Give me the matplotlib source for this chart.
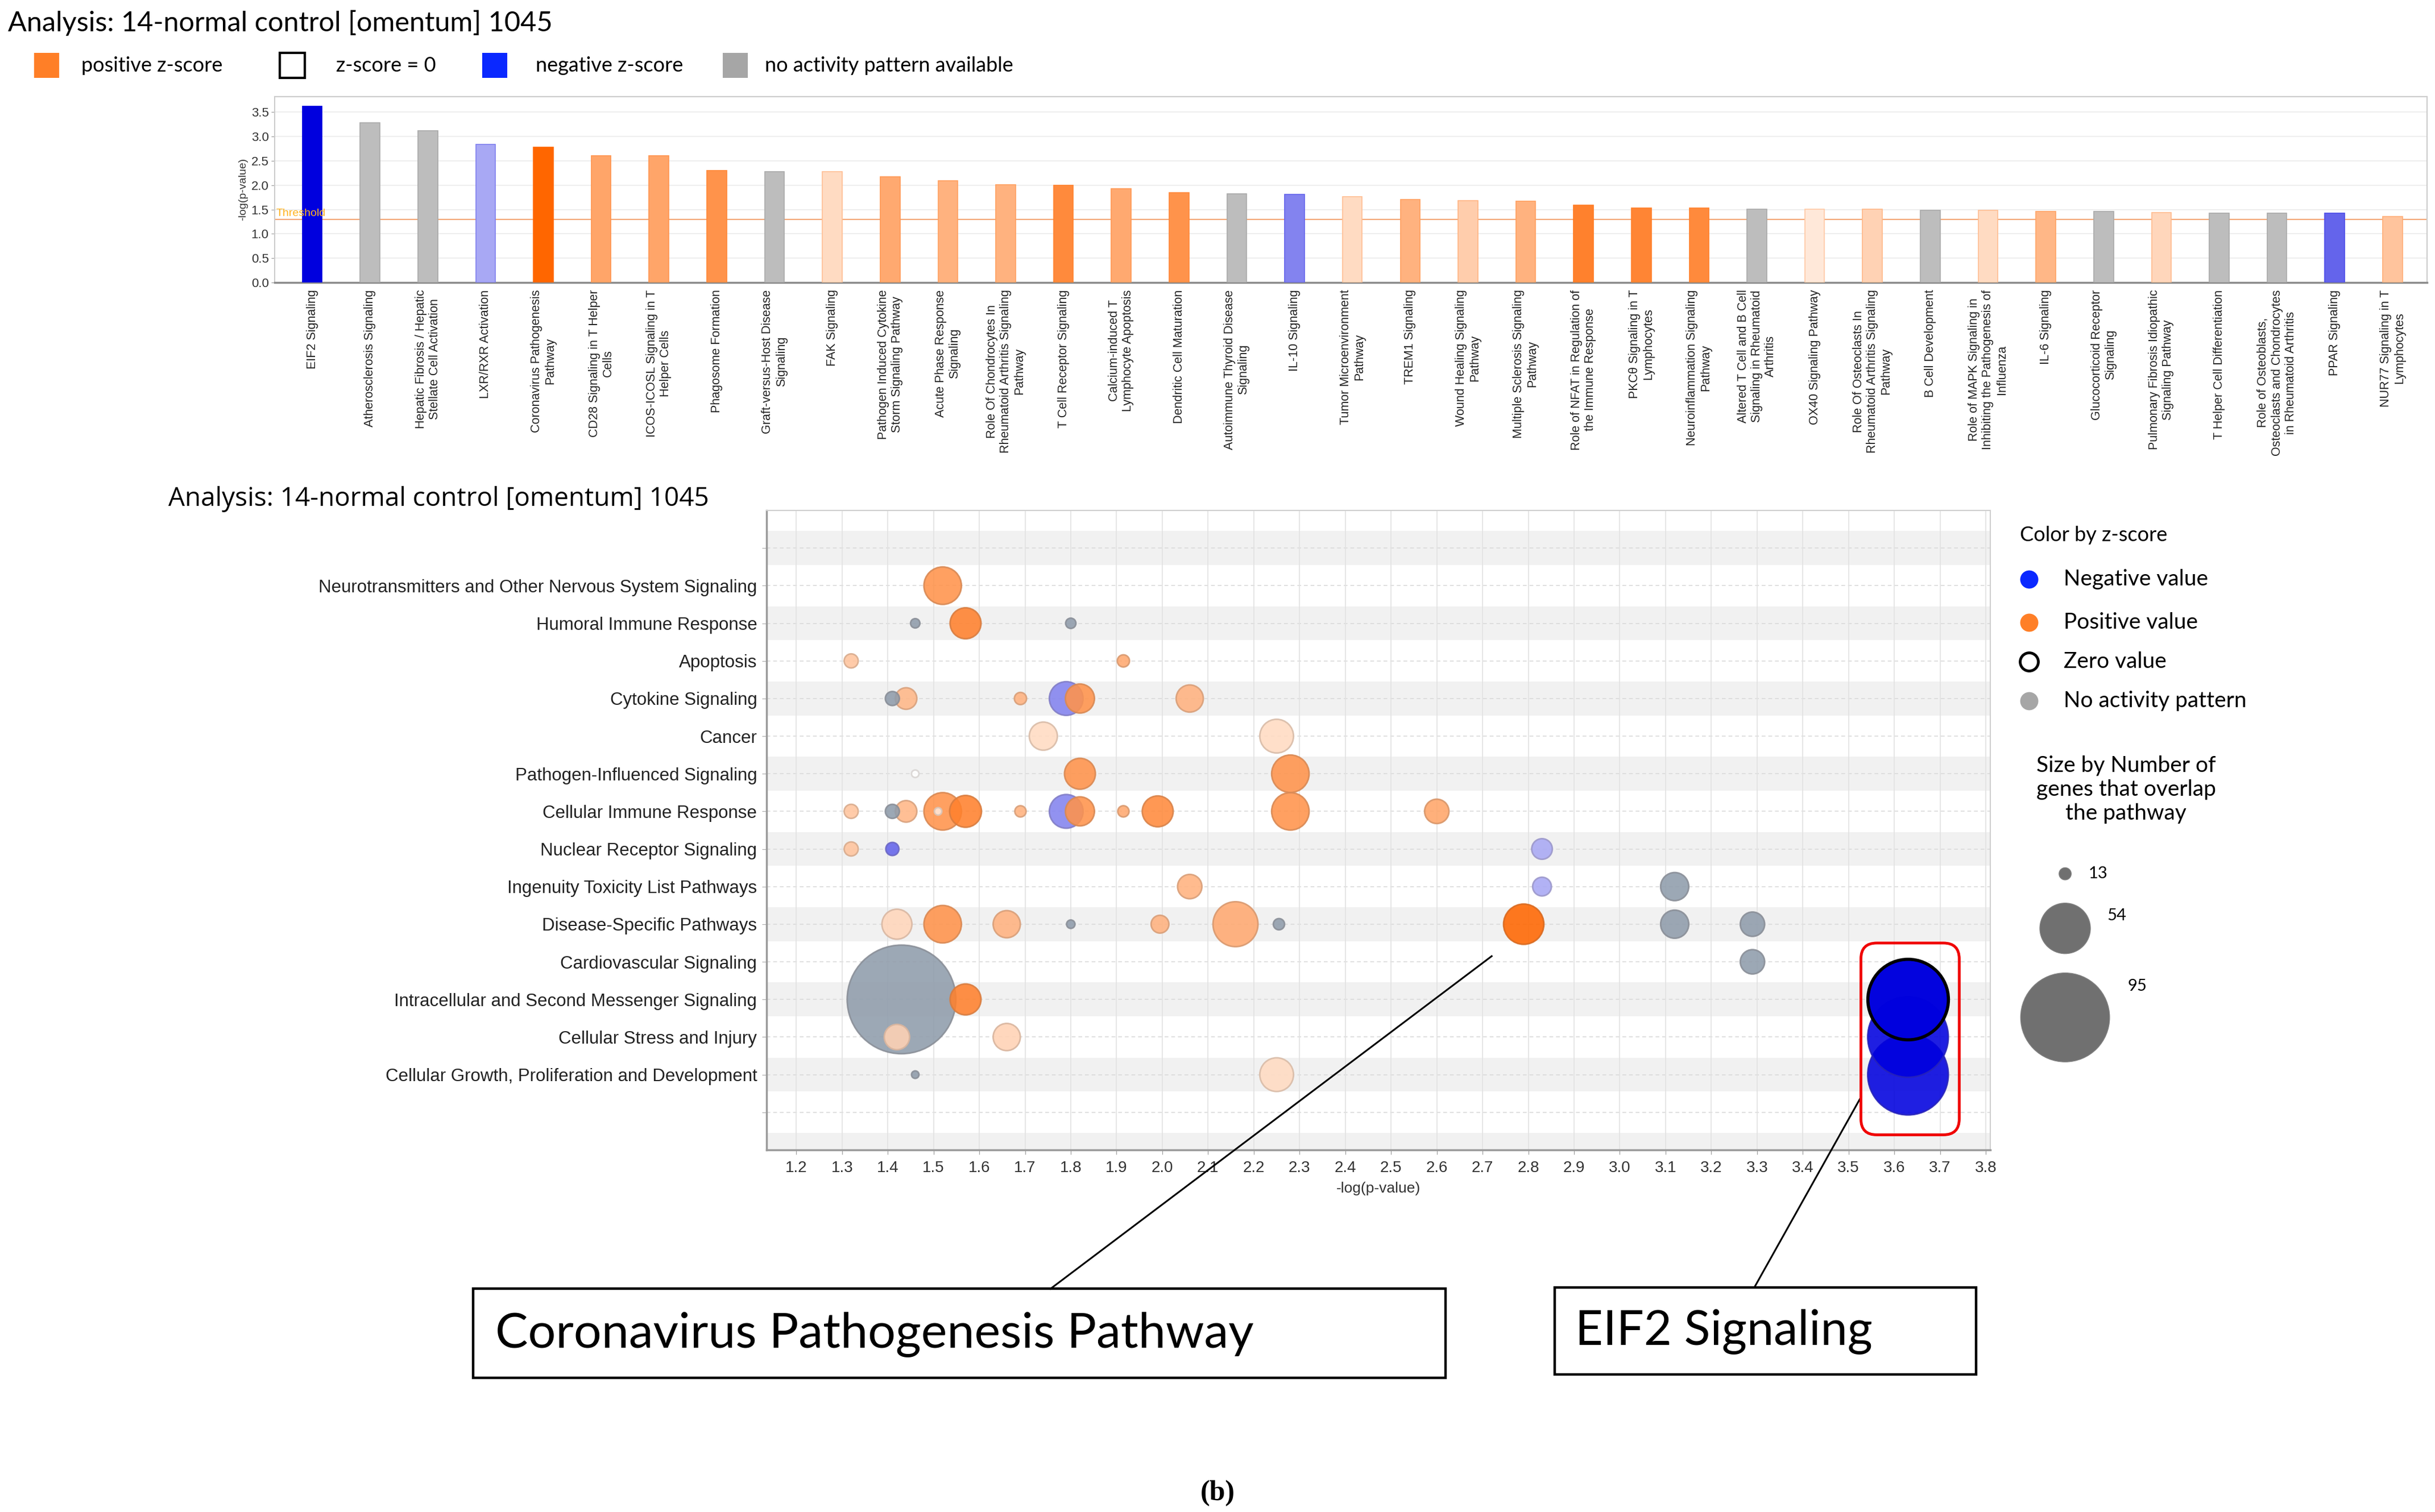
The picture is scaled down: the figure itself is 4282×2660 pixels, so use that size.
import numpy as np
import matplotlib
matplotlib.use("Agg")
import matplotlib.pyplot as plt
from matplotlib.patches import Rectangle, FancyBboxPatch
from matplotlib.transforms import IdentityTransform

# ---- top bar chart: canonical pathways ----
bar_names = [
    "EIF2 Signaling", "Atherosclerosis Signaling",
    "Hepatic Fibrosis / Hepatic\nStellate Cell Activation", "LXR/RXR Activation",
    "Coronavirus Pathogenesis\nPathway", "CD28 Signaling in T Helper\nCells",
    "ICOS-ICOSL Signaling in T\nHelper Cells", "Phagosome Formation",
    "Graft-versus-Host Disease\nSignaling", "FAK Signaling",
    "Pathogen Induced Cytokine\nStorm Signaling Pathway",
    "Acute Phase Response\nSignaling",
    "Role Of Chondrocytes In\nRheumatoid Arthritis Signaling\nPathway",
    "T Cell Receptor Signaling", "Calcium-induced T\nLymphocyte Apoptosis",
    "Dendritic Cell Maturation", "Autoimmune Thyroid Disease\nSignaling",
    "IL-10 Signaling", "Tumor Microenvironment\nPathway", "TREM1 Signaling",
    "Wound Healing Signaling\nPathway", "Multiple Sclerosis Signaling\nPathway",
    "Role of NFAT in Regulation of\nthe Immune Response",
    "PKCθ Signaling in T\nLymphocytes", "Neuroinflammation Signaling\nPathway",
    "Altered T Cell and B Cell\nSignaling in Rheumatoid\nArthritis",
    "OX40 Signaling Pathway",
    "Role Of Osteoclasts In\nRheumatoid Arthritis Signaling\nPathway",
    "B Cell Development",
    "Role of MAPK Signaling in\nInhibiting the Pathogenesis of\nInfluenza",
    "IL-6 Signaling", "Glucocorticoid Receptor\nSignaling",
    "Pulmonary Fibrosis Idiopathic\nSignaling Pathway",
    "T Helper Cell Differentiation",
    "Role of Osteoblasts,\nOsteoclasts and Chondrocytes\nin Rheumatoid Arthritis",
    "PPAR Signaling", "NUR77 Signaling in T\nLymphocytes",
]
bar_logp = [3.62, 3.28, 3.12, 2.84, 2.78, 2.60, 2.60, 2.30, 2.28, 2.28,
            2.17, 2.09, 2.01, 2.00, 1.93, 1.84, 1.82, 1.81, 1.76, 1.70,
            1.68, 1.67, 1.59, 1.53, 1.53, 1.51, 1.51, 1.51, 1.48, 1.48,
            1.46, 1.46, 1.44, 1.43, 1.43, 1.42, 1.35]
nan = np.nan
bar_z = [-3.6, nan, nan, -0.9, 3.0, 1.6, 1.6, 2.0, nan, 0.4,
         1.5, 1.3, 1.3, 2.2, 1.5, 2.0, nan, -1.5, 0.4, 1.3,
         0.7, 1.3, 2.4, 2.3, 2.2, nan, 0.1, 0.6, nan, 0.4,
         1.2, nan, 0.5, nan, nan, -2.0, 0.9]
threshold = 1.3

# ---- bubble chart: pathway categories ----
categories = [
    "Neurotransmitters and Other Nervous System Signaling",
    "Humoral Immune Response", "Apoptosis", "Cytokine Signaling", "Cancer",
    "Pathogen-Influenced Signaling", "Cellular Immune Response",
    "Nuclear Receptor Signaling", "Ingenuity Toxicity List Pathways",
    "Disease-Specific Pathways", "Cardiovascular Signaling",
    "Intracellular and Second Messenger Signaling",
    "Cellular Stress and Injury",
    "Cellular Growth, Proliferation and Development",
]
bubble_cat = (["Neurotransmitters and Other Nervous System Signaling"]
              + ["Humoral Immune Response"] * 3
              + ["Apoptosis"] * 2
              + ["Cytokine Signaling"] * 6
              + ["Cancer"] * 2
              + ["Pathogen-Influenced Signaling"] * 3
              + ["Cellular Immune Response"] * 13
              + ["Nuclear Receptor Signaling"] * 3
              + ["Ingenuity Toxicity List Pathways"] * 3
              + ["Disease-Specific Pathways"] * 10
              + ["Cardiovascular Signaling"]
              + ["Intracellular and Second Messenger Signaling"] * 3
              + ["Cellular Stress and Injury"] * 3
              + ["Cellular Growth, Proliferation and Development"] * 3)
bubble_logp = [1.52,
               1.46, 1.57, 1.80,
               1.32, 1.915,
               1.41, 1.44, 1.69, 1.79, 1.82, 2.06,
               1.74, 2.25,
               1.46, 1.82, 2.28,
               1.32, 1.41, 1.44, 1.52, 1.51, 1.57, 1.69, 1.79, 1.82, 1.915, 1.99, 2.28, 2.60,
               1.32, 1.41, 2.83,
               2.06, 2.83, 3.12,
               1.42, 1.52, 1.66, 1.80, 1.995, 2.16, 2.255, 2.79, 3.12, 3.29,
               3.29,
               1.43, 1.57, 3.63,
               1.42, 1.66, 3.63,
               1.46, 2.25, 3.63]
bubble_genes = [40,
                10, 33, 11,
                15, 13,
                15, 23, 13, 36, 31, 29,
                30, 36,
                8, 33, 40,
                15, 15, 23, 40, 8, 34, 12, 36, 31, 12, 33, 40, 26,
                15, 14, 22,
                26, 20, 30,
                32, 40, 29, 9, 19, 48, 12, 43, 30, 26,
                26,
                116, 33, 86,
                27, 29, 86,
                8, 36, 86]
bubble_z = [2.0,
            nan, 2.4, nan,
            0.9, 1.5,
            nan, 1.2, 1.3, -1.5, 2.0, 1.3,
            0.4, 0.4,
            0.0, 2.0, 2.0,
            0.9, nan, 1.2, 2.0, 0.1, 2.4, 1.3, -1.5, 2.0, 1.5, 2.2, 2.0, 1.6,
            0.9, -2.0, -0.9,
            1.3, -0.9, nan,
            0.5, 2.0, 1.3, nan, 1.3, 1.5, nan, 3.0, nan, nan,
            nan,
            nan, 2.4, -3.6,
            0.6, 0.6, -3.6,
            nan, 0.4, -3.6]
size_legend = [13, 54, 95]

TITLE = "Analysis: 14-normal control [omentum] 1045"


def zshade(z):
    white = np.array([1.0, 1.0, 1.0])
    if z == 0:
        return white
    if z < 0:
        base = np.array([0.0, 0.0, 0.87])
        t = min(-z / 3.6, 1)
    else:
        base = np.array([1.0, 0.4, 0.0])
        t = min(z / 3.0, 1)
    t2 = 0.12 + 0.88 * t
    return white * (1 - t2) + base * t2


def gene_size(n):
    # marker diameter in points grows linearly with the gene count
    return (1.186 * np.asarray(n, dtype=float)) ** 2


W, H, DPI = 4282, 2660, 100
fig = plt.figure(figsize=(W / DPI, H / DPI), dpi=DPI)
fig.patch.set_facecolor("white")

# ================= bar chart =================
ax1 = fig.add_axes([0.1128, 0.8132, 0.884, 0.1229])
xb = np.arange(len(bar_names))
bar_fill, bar_edge = [], []
for z in bar_z:
    if np.isnan(z):
        bar_fill.append("#bdbdbd")
        bar_edge.append("#a9a9a9")
    else:
        c = zshade(z)
        bar_fill.append(c)
        base = np.array([0, 0, 0.87]) if z < 0 else np.array([1, 0.4, 0])
        bar_edge.append(0.75 * c + 0.25 * base)
ax1.bar(xb, bar_logp, width=0.34, color=bar_fill, edgecolor=bar_edge,
        linewidth=1.2, zorder=3)
ax1.axhline(threshold, color="#f3a878", lw=1.6, zorder=2)
ax1.text(-0.62, threshold + 0.02, "Threshold", color="#ffb21e", fontsize=14,
         va="bottom", ha="left", zorder=4, family="Liberation Sans")
ax1.set_xlim(-0.65, 36.6)
ax1.set_ylim(0, 3.82)
yt = np.arange(0, 3.51, 0.5)
ax1.set_yticks(yt)
ax1.set_yticklabels([f"{v:.1f}" for v in yt], family="Liberation Sans")
ax1.set_ylabel("-log(p-value)", fontsize=14, family="Liberation Sans",
               labelpad=4, color="#333333")
ax1.yaxis.grid(True, color="#eeeeee", lw=1.5)
ax1.set_axisbelow(True)
ax1.set_xticks(xb)
ax1.set_xticklabels(bar_names, rotation=90, fontsize=15.5, ha="center",
                    va="top", multialignment="center",
                    family="Liberation Sans", color="#222222")
ax1.tick_params(axis="x", length=0, pad=9)
ax1.tick_params(axis="y", labelsize=16, length=4, color="#999999",
                labelcolor="#333333")
for s in ["top", "right", "left"]:
    ax1.spines[s].set_color("#cccccc")
    ax1.spines[s].set_linewidth(1.5)
ax1.spines["bottom"].set_color("#8a8a8a")
ax1.spines["bottom"].set_linewidth(2.5)

# ================= bubble chart =================
ax2 = fig.add_axes([0.3148, 0.2395, 0.5026, 0.4229])
cat_idx = np.array([categories.index(c) + 1 for c in bubble_cat])
logp = np.array(bubble_logp)
genes = np.array(bubble_genes)

for i in range(0, 17, 2):
    ax2.axhspan(i - 0.45, i + 0.45, color="#f1f1f1", lw=0, zorder=0)
for i in range(0, 16):
    ax2.axhline(i, color="#dadada", lw=1.2, ls=(0, (4, 3)), zorder=1)
xt = np.round(np.arange(1.2, 3.81, 0.1), 1)
for v in xt:
    ax2.axvline(v, color="#e2e2e2", lw=1.2, zorder=1)

fills, edges = [], []
for z in bubble_z:
    if np.isnan(z):
        c = np.array([0.56, 0.61, 0.67])
    else:
        c = zshade(z)
    e = 0.7 * c + 0.3 * np.array([0.5, 0.45, 0.42])
    fills.append((*c, 0.88))
    edges.append((*e, 0.9))
order = sorted(range(len(logp)), key=lambda i: (-genes[i], -cat_idx[i]))
ax2.scatter(logp[order], cat_idx[order], s=gene_size(genes[order]),
            c=[fills[i] for i in order], edgecolors=[edges[i] for i in order],
            linewidths=2, zorder=3)

# EIF2 signaling highlight
top_row = categories.index("Intracellular and Second Messenger Signaling") + 1
k = [i for i in range(len(logp)) if logp[i] == logp.max() and cat_idx[i] == top_row][0]
ax2.scatter([logp[k]], [cat_idx[k]], s=gene_size(genes[k]), facecolors=fills[k],
            edgecolors="black", linewidths=4, zorder=4)

ax2.set_xlim(1.135, 3.81)
ax2.set_ylim(16, -1)
ax2.set_xticks(xt)
ax2.set_xticklabels([f"{v:.1f}" for v in xt], family="Liberation Sans")
ax2.set_yticks(range(0, 16))
ax2.set_yticklabels([""] + categories + [""], family="Liberation Sans")
ax2.tick_params(axis="y", labelsize=22.5, length=6, color="#aaaaaa",
                labelcolor="#222222", pad=6)
ax2.tick_params(axis="x", labelsize=20, length=6, color="#999999",
                labelcolor="#333333", pad=8)
ax2.set_xlabel("-log(p-value)", fontsize=19, family="Liberation Sans",
               color="#333333", labelpad=8)
for s in ["top", "right"]:
    ax2.spines[s].set_color("#cfcfcf")
    ax2.spines[s].set_linewidth(1.5)
for s in ["left", "bottom"]:
    ax2.spines[s].set_color("#9a9a9a")
    ax2.spines[s].set_linewidth(2.5)

# red frame around the EIF2 bubbles
fig.canvas.draw()
p0 = ax2.transData.transform((3.527, 15.6))
p1 = ax2.transData.transform((3.742, 10.5))
frame = FancyBboxPatch((p0[0], p0[1]), p1[0] - p0[0], p1[1] - p0[1],
                       boxstyle="round,pad=0,rounding_size=28",
                       transform=IdentityTransform(), fill=False,
                       ec="#f00000", lw=3.5, zorder=20)
fig.add_artist(frame)

# ================= overlay: titles, legends, callouts =================
lax = fig.add_axes([0, 0, 1, 1])
lax.set_xlim(0, 1)
lax.set_ylim(0, 1)
lax.axis("off")
lax.set_zorder(10)

fig.text(0.0032, 0.9850, TITLE, fontsize=35, family="Lato", va="center",
         ha="left")
fig.text(0.0692, 0.6698, TITLE, fontsize=33, family="Open Sans",
         va="center", ha="left")

# top legend
leg_items = [("positive z-score", "#ff7f27", "#ff7f27", 0.0141, 0.0333),
             ("z-score = 0", "white", "black", 0.1148, 0.1380),
             ("negative z-score", "#0a28ff", "#0a28ff", 0.1981, 0.2199),
             ("no activity pattern available", "#a6a6a6", "#a6a6a6", 0.2968, 0.3141)]
for lab, fc, ec, xs, xtxt in leg_items:
    lax.add_patch(Rectangle((xs, 0.9567 - 0.0083), 0.0103, 0.0166, fc=fc,
                            ec=ec, lw=3 if fc == "white" else 0))
    lax.text(xtxt, 0.9567, lab, fontsize=26, family="Lato", va="center",
             ha="left")

# bubble colour legend
lax.text(0.8295, 0.646, "Color by z-score", fontsize=26, family="Lato",
         va="center", ha="left")
col_items = [("Negative value", "#0a28ff", "#0a28ff"),
             ("Positive value", "#ff7f27", "#ff7f27"),
             ("Zero value", "white", "black"),
             ("No activity pattern", "#a6a6a6", "#a6a6a6")]
for j, (lab, fc, ec) in enumerate(col_items):
    yy = [0.6171, 0.5882, 0.5624, 0.5366][j]
    lax.plot([0.8333], [yy], "o", ms=23, mfc=fc, mec=ec,
             mew=3.5 if fc == "white" else 0)
    lax.text(0.8474, yy, lab, fontsize=28, family="Lato", va="center",
             ha="left")

lax.text(0.8731, 0.4778, "Size by Number of\ngenes that overlap\nthe pathway",
         fontsize=28, family="Lato", va="center", ha="center",
         linespacing=1.2)
size_y = [0.4221, 0.3860, 0.3271]
lax.scatter([0.8481] * 3, size_y, s=gene_size(size_legend), c="#707070",
            edgecolors="#808080", lw=1)
for n, (tx, ty) in zip(size_legend, [(0.8577, 0.4221), (0.8654, 0.3942),
                                     (0.8737, 0.3478)]):
    lax.text(tx, ty, str(n), fontsize=21, family="Lato", va="center",
             ha="left")

# callout boxes and leader lines
cor_k = [i for i in range(len(logp)) if logp[i] == max(
    v for v, z in zip(bubble_logp, bubble_z) if not np.isnan(z) and z > 0)][0]
inv = fig.transFigure.inverted()
cor_tip = inv.transform(ax2.transData.transform((logp[cor_k] - 0.07, cat_idx[cor_k] + 0.85)))
eif_tip = inv.transform(ax2.transData.transform((3.527, 14.6)))

lax.plot([0.4314, cor_tip[0]], [0.1476, cor_tip[1]], color="black", lw=2.2)
lax.plot([0.7205, eif_tip[0]], [0.1486, eif_tip[1]], color="black", lw=2.2)
lax.add_patch(Rectangle((0.1942, 0.0888), 0.3994, 0.0588, fc="white",
                        ec="black", lw=3.2))
lax.add_patch(Rectangle((0.6385, 0.0908), 0.1730, 0.0578, fc="white",
                        ec="black", lw=3.2))
lax.text(0.2035, 0.1178, "Coronavirus Pathogenesis Pathway", fontsize=62,
         family="Lato", va="center", ha="left")
lax.text(0.6470, 0.1195, "EIF2 Signaling", fontsize=61, family="Lato",
         va="center", ha="left")
lax.text(0.5, 0.0125, "(b)", fontsize=36, family="Liberation Serif",
         weight="bold", va="center", ha="center")

fig.savefig("out.png", dpi=DPI, facecolor="white")
